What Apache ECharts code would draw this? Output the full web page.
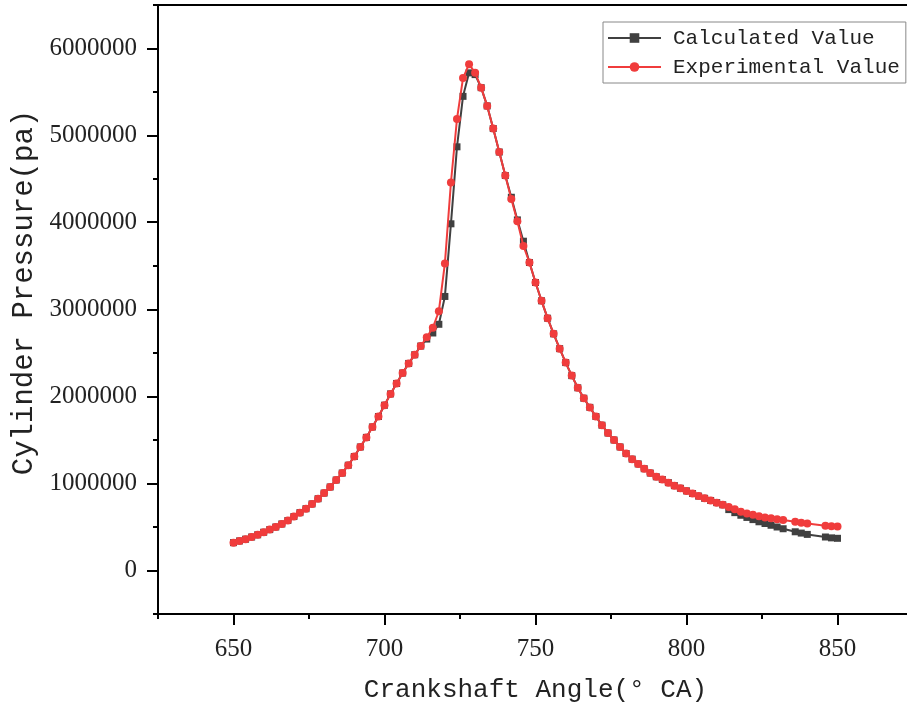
<!DOCTYPE html>
<html>
<head>
<meta charset="utf-8">
<script src="https://cdn.jsdelivr.net/npm/echarts@6/dist/echarts.min.js"></script>
<style>
html,body{margin:0;padding:0;background:#fff;}
#chart{width:907px;height:704px;}
</style>
</head>
<body>
<div id="chart"></div>
<script>
// ---- data ----
const calcAngles = [650,652,654,656,658,660,662,664,666,668,670,672,674,676,678,680,682,684,686,688,690,692,694,696,698,700,702,704,706,708,710,712,714,716,718,720,722,724,726,728,730,732,734,736,738,740,742,744,746,748,750,752,754,756,758,760,762,764,766,768,770,772,774,776,778,780,782,784,786,788,790,792,794,796,798,800,802,804,806,808,810,812,814,816,818,820,822,824,826,828,830,832,836,838,840,846,848,850];
const calcValues = [320000,340000,360000,385000,410000,440000,470000,500000,535000,575000,620000,665000,710000,765000,825000,890000,960000,1040000,1120000,1210000,1310000,1420000,1530000,1650000,1770000,1900000,2030000,2150000,2270000,2380000,2480000,2580000,2660000,2730000,2830000,3150000,3985000,4870000,5450000,5720000,5700000,5550000,5340000,5080000,4810000,4540000,4290000,4030000,3785000,3540000,3310000,3100000,2900000,2720000,2550000,2390000,2240000,2100000,1980000,1875000,1770000,1670000,1580000,1500000,1420000,1345000,1280000,1225000,1170000,1120000,1077000,1046000,1010000,975000,945000,915000,885000,855000,830000,805000,780000,755000,700000,665000,635000,610000,585000,560000,540000,520000,500000,480000,445000,430000,415000,385000,375000,370000];
const expAngles = [650,652,654,656,658,660,662,664,666,668,670,672,674,676,678,680,682,684,686,688,690,692,694,696,698,700,702,704,706,708,710,712,714,716,718,720,722,724,726,728,730,732,734,736,738,740,742,744,746,748,750,752,754,756,758,760,762,764,766,768,770,772,774,776,778,780,782,784,786,788,790,792,794,796,798,800,802,804,806,808,810,812,814,816,818,820,822,824,826,828,830,832,836,838,840,846,848,850];
const expValues = [320000,340000,360000,385000,410000,440000,470000,500000,535000,575000,620000,665000,710000,765000,825000,890000,960000,1040000,1120000,1210000,1310000,1420000,1530000,1650000,1770000,1900000,2030000,2150000,2270000,2380000,2480000,2580000,2680000,2790000,2980000,3530000,4460000,5190000,5660000,5820000,5720000,5550000,5340000,5080000,4810000,4540000,4270000,4015000,3730000,3540000,3310000,3100000,2900000,2720000,2550000,2390000,2240000,2100000,1980000,1875000,1770000,1670000,1580000,1500000,1420000,1345000,1280000,1225000,1170000,1120000,1077000,1046000,1010000,975000,945000,915000,885000,855000,830000,805000,780000,755000,730000,705000,675000,655000,640000,625000,610000,600000,590000,580000,560000,550000,540000,515000,510000,505000];
const seriesNames = ['Calculated Value','Experimental Value'];
const xTickLabels = [650,700,750,800,850];
const yTickLabels = [0,1000000,2000000,3000000,4000000,5000000,6000000];
const xMinorTicks = [625,675,725,775,825,875];
const yMinorTicks = [-500000,500000,1500000,2500000,3500000,4500000,5500000,6500000];

const pair = (a, v) => a.map((x, i) => [x, v[i]]);
const labelFont = 'Liberation Serif';
const titleFont = 'Liberation Mono';
const X_MIN = 625, X_MAX = 875, Y_MIN = -500000, Y_MAX = 6500000;
const MAJOR_LEN = 11;

function tickAxis(kind, ticks, len) {
  return {
    type: 'value', gridIndex: 0,
    min: kind === 'x' ? X_MIN : Y_MIN, max: kind === 'x' ? X_MAX : Y_MAX,
    position: kind === 'x' ? 'bottom' : 'left',
    axisLine: {show: false, onZero: false},
    axisTick: {show: true, inside: false, length: len, customValues: ticks, lineStyle: {color: '#000', width: 2}},
    axisLabel: {show: false}, splitLine: {show: false}
  };
}

const chart = echarts.init(document.getElementById('chart'), null, {renderer: 'canvas'});
chart.setOption({
  animation: false,
  backgroundColor: '#fff',
  grid: {left: 158, top: 5, width: 755, height: 609, show: true, borderColor: '#000', borderWidth: 2, backgroundColor: 'transparent', outerBoundsMode: 'none', containLabel: false},
  legend: {
    left: 603, top: 22, orient: 'vertical',
    padding: [4, 6, 4, 4],
    borderColor: '#888', borderWidth: 1,
    itemWidth: 53, itemHeight: 12, itemGap: 5,
    textStyle: {fontFamily: titleFont, fontSize: 21, color: '#222', lineHeight: 24, padding: [0, 0, 0, 7]},
    data: seriesNames
  },
  xAxis: [{
    type: 'value', min: X_MIN, max: X_MAX, gridIndex: 0, position: 'bottom',
    name: 'Crankshaft Angle(° CA)', nameLocation: 'middle', nameGap: 63,
    nameTextStyle: {fontFamily: titleFont, fontSize: 26, color: '#222'},
    axisLine: {show: true, onZero: false, lineStyle: {color: '#000', width: 2}},
    axisTick: {show: false},
    axisLabel: {customValues: xTickLabels, margin: 23, fontFamily: labelFont, fontSize: 25, color: '#222', formatter: v => String(v)},
    splitLine: {show: false}
  }, tickAxis('x', xMinorTicks, 5)],
  yAxis: [{
    type: 'value', min: Y_MIN, max: Y_MAX, gridIndex: 0, position: 'left',
    name: 'Cylinder Pressure(pa)', nameLocation: 'middle', nameGap: 117, nameRotate: 90,
    nameTextStyle: {fontFamily: titleFont, fontSize: 29, color: '#222', padding: [0, 0, 0, 34]},
    axisLine: {show: true, onZero: false, lineStyle: {color: '#000', width: 2}},
    axisTick: {show: false},
    axisLabel: {customValues: yTickLabels, margin: 21, fontFamily: labelFont, fontSize: 25, color: '#222', formatter: v => String(v)},
    splitLine: {show: false}
  }, tickAxis('y', yMinorTicks, 5)],
  series: [{
    name: seriesNames[0], type: 'line', xAxisIndex: 0, yAxisIndex: 0,
    data: pair(calcAngles, calcValues),
    symbol: 'rect', symbolSize: 7, showAllSymbol: true,
    lineStyle: {color: '#404040', width: 2},
    itemStyle: {color: '#404040'},
    z: 2
  }, {
    name: seriesNames[1], type: 'line', xAxisIndex: 0, yAxisIndex: 0,
    data: pair(expAngles, expValues),
    symbol: 'circle', symbolSize: 8, showAllSymbol: true,
    lineStyle: {color: '#f03c3c', width: 2},
    itemStyle: {color: '#f03c3c'},
    z: 3
  }]
});

// major ticks: positions come from each axis's own scale conversion
function px(axisFinder, value) {
  const r = chart.convertToPixel(axisFinder, value);
  return Array.isArray(r) ? r[0] : r;
}
const xLineY = px({yAxisIndex: 0}, Y_MIN);
const yLineX = px({xAxisIndex: 0}, X_MIN);
const tickLines = [];
xTickLabels.forEach(v => {
  const x = Math.round(px({xAxisIndex: 0}, v));
  tickLines.push({type: 'line', silent: true, z: 100,
    shape: {x1: x, y1: xLineY, x2: x, y2: xLineY + MAJOR_LEN}, style: {stroke: '#000', lineWidth: 2}});
});
yTickLabels.forEach(v => {
  const y = Math.round(px({yAxisIndex: 0}, v));
  tickLines.push({type: 'line', silent: true, z: 100,
    shape: {x1: yLineX - MAJOR_LEN, y1: y, x2: yLineX, y2: y}, style: {stroke: '#000', lineWidth: 2}});
});
chart.setOption({graphic: {elements: tickLines}});
</script>
</body>
</html>
